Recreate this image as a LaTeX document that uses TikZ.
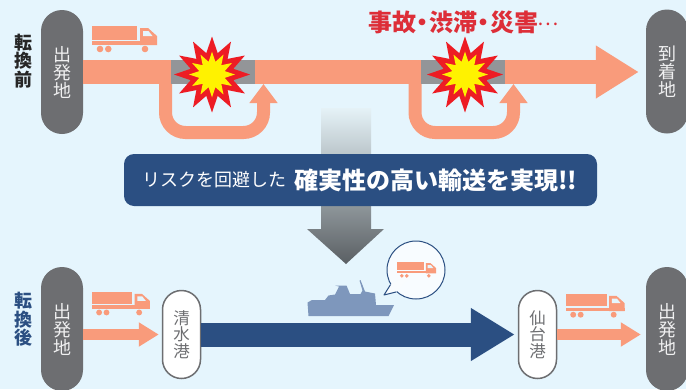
\documentclass[tikz,border=0pt]{standalone}
\usepackage{fontspec}
\setmainfont{Noto Sans CJK JP}
\usetikzlibrary{shapes.geometric,arrows.meta}
\definecolor{bgc}{HTML}{E5F5FD}
\definecolor{salmon}{HTML}{F99B7B}
\definecolor{pillc}{HTML}{6D6E71}
\definecolor{jamc}{HTML}{939598}
\definecolor{navy}{HTML}{2B4F82}
\definecolor{shipc}{HTML}{7E97BC}
\definecolor{burst}{HTML}{ED1C24}
\definecolor{bursty}{HTML}{FFF200}
\definecolor{headred}{HTML}{DD2E38}
\definecolor{gradtop}{HTML}{E5F2F7}
\definecolor{gradmid}{HTML}{939CA1}
\definecolor{gradbot}{HTML}{5A5F63}
\tikzset{
  x=1pt,y=-1pt,
  pill/.style={fill=pillc,rounded corners=21pt,minimum width=42pt,minimum height=124pt,inner sep=0pt,
    text=white!90!pillc,align=center,font=\fontsize{18}{18}\selectfont},
  port/.style={fill=white,draw=pillc,line width=1.5pt,rounded corners=19pt,minimum width=38pt,minimum height=88pt,inner sep=0pt,
    text=pillc,align=center,font=\fontsize{16.5}{16.5}\selectfont},
  side/.style={inner sep=0pt,align=center,font=\bfseries\fontsize{18}{18.5}\selectfont},
  flow/.style={salmon,line width=24pt,-{Triangle[length=43pt,width=50pt]}},
  flowsmall/.style={salmon,line width=11pt,-{Triangle[length=20pt,width=23pt]}},
  sea/.style={navy,line width=24pt,-{Triangle[length=44pt,width=50pt]}},
  bypass/.style={salmon,line width=13pt,rounded corners=20pt,-{Triangle[length=19pt,width=27pt]}},
  jam/.style={fill=jamc,minimum width=84pt,minimum height=24pt,inner sep=0pt},
  burstout/.style={star,star points=12,star point ratio=1.72,minimum size=76pt,inner sep=0pt,fill=burst},
  burstin/.style={star,star points=12,star point ratio=1.75,minimum size=46pt,inner sep=0pt,fill=bursty},
  truck/.pic={
    \fill[salmon] (0,0) rectangle (45,13.5);
    \fill[salmon] (0,15) rectangle (65,19);
    \fill[salmon] (48,2) -- (56,2) -- (65,10) -- (65,19) -- (48,19) -- cycle;
    \fill[bgc] (51,5) -- (56.5,5) -- (60.5,10) -- (51,10) -- cycle;
    \fill[salmon] (8,23) circle[radius=3.3];
    \fill[salmon] (16.3,23) circle[radius=3.3];
    \fill[salmon] (53,23) circle[radius=3.3];
  }
}
\begin{document}
\begin{tikzpicture}
\useasboundingbox (0,0) rectangle (686,389);
\fill[bgc] (0,0) rectangle (686,389);

% pills and ports
\node[pill] (dep1) at (62,72) {出\\発\\地};
\node[pill] (arr1) at (667,71.5) {到\\着\\地};
\node[pill] (dep2) at (62,329) {出\\発\\地};
\node[pill] (arr2) at (667,329) {出\\発\\地};

% side labels
\node[side,text=black!85] (before) at (23,61) {転\\換\\前};
\node[side,text=navy] (after) at (23,319.5) {転\\換\\後};

% headline
\node[anchor=base west,inner sep=0pt,text=headred,font=\bfseries\fontsize{24}{24}\selectfont] (trouble) at (368,31)
  {事故\kern-5.5pt・\kern-5.5pt渋滞\kern-5.5pt・\kern-5.5pt災害\kern-1pt\raisebox{6pt}{\fontsize{20}{20}\selectfont\mdseries ⋯}};

% top route
\draw[bypass] (165.5,78) -- (165.5,132.5) -- (263.5,132.5) -- (263.5,84);
\draw[bypass] (415,78) -- (415,132.5) -- (513.5,132.5) -- (513.5,84);
\draw[flow,shorten >=7pt] (dep1.east) -- (arr1.west |- dep1.east);
\node[jam] (jam1) at (213,72) {};
\node[jam] (jam2) at (463,72) {};
\node[burstout] (red1) at (212,74.5) {};
\node[burstin] (yel1) at (212,74.5) {};
\node[burstout] (red2) at (465,74.5) {};
\node[burstin] (yel2) at (465,74.5) {};

% trucks
\pic at (92,26) {truck};
\pic[scale=.89] at (92,292) {truck};
\pic[scale=.9] at (566,294) {truck};

% transition arrow
\path[top color=gradtop,middle color=gradmid,bottom color=gradbot,draw=none]
  (321,108) -- (371,108) -- (371,229) -- (384,229) -- (346,264) -- (307,229) -- (321,229) -- cycle;

% banner
\node[fill=navy,rounded corners=10pt,minimum width=473pt,minimum height=52pt,inner sep=0pt] (banner) at (360.5,180) {};
\node[anchor=base west,inner sep=0pt,text=white,font=\fontsize{18}{18}\selectfont] (bantext1) at (142.5,186) {リスクを回避した};
\node[anchor=base west,inner sep=0pt,text=white,font=\bfseries\fontsize{24}{24}\selectfont] (bantext2) at (294,189) {確実性の高い輸送を実現!!};

% ports and lower route
\node[port] (port1) at (181.5,334.5) {清\\水\\港};
\node[port] (port2) at (537.5,334.5) {仙\\台\\港};
\draw[flowsmall,shorten >=3pt] (dep2.east |- port1.west) -- (port1.west);
\draw[sea,shorten >=3pt] (port1.east) -- (port2.west);
\draw[flowsmall,shorten >=5pt] (port2.east) -- (arr2.west |- port2.east);

% ship
\fill[shipc] (307.5,302.5) -- (312,300) -- (325,300) -- (328.5,295.5) -- (335,294.5) -- (339,286.5) -- (335,285.5) -- (346.5,285.5) -- (350,294) -- (360.5,294) -- (362.5,290.5) -- (359.5,280.5) -- (360.5,280) -- (365,291.5) -- (375,293.5) -- (376,305) -- (394,305) -- (388.5,316) -- (308.5,316) -- cycle;

% bubble
\node[circle,draw=navy,fill=white!75!bgc,line width=1pt,minimum size=58pt,inner sep=0pt] (bubble) at (416,270) {};
\coordinate (tail) at (384,295);
\fill[white!75!bgc] (bubble.210) -- (tail) -- (bubble.228) -- (bubble.center) -- cycle;
\draw[navy,line width=1pt,line join=round] (bubble.210) -- (tail) -- (bubble.228);
\pic[scale=.6] at (397,262) {truck};
\end{tikzpicture}
\end{document}
